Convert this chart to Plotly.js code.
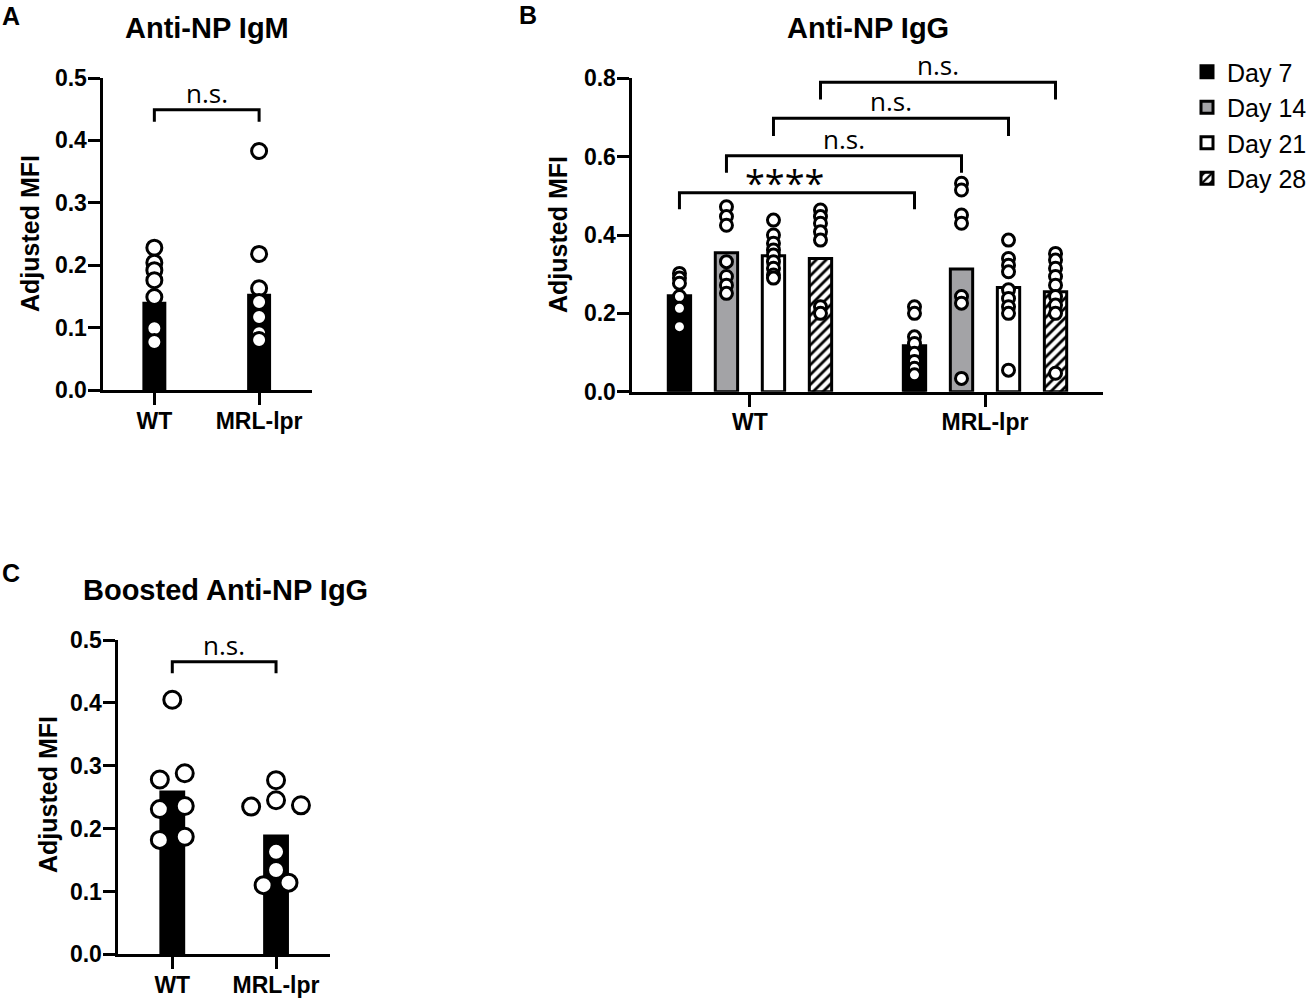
<!DOCTYPE html>
<html><head><meta charset="utf-8">
<script src="https://cdn.plot.ly/plotly-3.0.1.min.js"></script>
<style>html,body{margin:0;padding:0;background:#fff}</style>
</head><body><div id="chart" style="width:1312px;height:1001px"></div>
<script>
// ---------- data ----------
const categories = ['WT', 'MRL-lpr'];
const days = ['Day 7', 'Day 14', 'Day 21', 'Day 28'];

// Panel A: Anti-NP IgM
const igmMeans = [0.139, 0.152];
const igmWT  = [0.228, 0.204, 0.192, 0.176, 0.149, 0.099, 0.077];
const igmMRL = [0.383, 0.218, 0.163, 0.141, 0.117, 0.091, 0.080];
const igmSig = 'n.s.';

// Panel B: Anti-NP IgG (per day)
const iggMeansWT  = [0.245, 0.355, 0.347, 0.340];
const iggMeansMRL = [0.117, 0.313, 0.266, 0.255];
const iggWTd7   = [0.302, 0.290, 0.277, 0.243, 0.213, 0.166];
const iggWTd14  = [0.472, 0.447, 0.425, 0.332, 0.294, 0.272, 0.251];
const iggWTd21  = [0.438, 0.400, 0.379, 0.362, 0.349, 0.332, 0.315, 0.298, 0.290];
const iggWTd28  = [0.464, 0.447, 0.430, 0.408, 0.387, 0.217, 0.200];
const iggMRLd7  = [0.217, 0.200, 0.140, 0.123, 0.098, 0.077, 0.060, 0.043];
const iggMRLd14 = [0.532, 0.515, 0.451, 0.430, 0.243, 0.226, 0.034];
const iggMRLd21 = [0.387, 0.340, 0.323, 0.306, 0.260, 0.238, 0.217, 0.200, 0.055];
const iggMRLd28 = [0.353, 0.336, 0.315, 0.294, 0.272, 0.243, 0.221, 0.200, 0.047];
const iggSig = ['****', 'n.s.', 'n.s.', 'n.s.'];

// Panel C: Boosted Anti-NP IgG
const boostMeans = [0.258, 0.188];
const boostWT  = [0.405, 0.288, 0.278, 0.236, 0.231, 0.187, 0.182];
const boostMRL = [0.277, 0.245, 0.237, 0.235, 0.163, 0.134, 0.114, 0.110];
const boostSig = 'n.s.';

// ---------- layout helpers ----------
const W = 1312, H = 1001;
const px = v => v / W;
const py = v => 1 - v / H;
const BOLD = 'Liberation Sans, Arial, sans-serif';
const SIG = 'Open Sans, sans-serif';

const iggWT = [iggWTd7, iggWTd14, iggWTd21, iggWTd28];
const iggMRL = [iggMRLd7, iggMRLd14, iggMRLd21, iggMRLd28];

const circle = (size) => ({symbol: 'circle', size: size, color: 'white', line: {color: 'black', width: 3}});

function xAxis(dom, rng, anchor) {
  return {domain: dom, range: rng, anchor: anchor, tickvals: [0, 1], ticktext: categories,
    showline: true, linecolor: 'black', linewidth: 3, ticks: 'outside', ticklen: 12, tickwidth: 3,
    tickcolor: 'black', showgrid: false, zeroline: false, fixedrange: true, ticklabelstandoff: -4,
    tickfont: {family: BOLD, size: 23, color: 'black', weight: 'bold'}};
}
function yAxis(dom, rng, dt, anchor) {
  return {domain: dom, range: rng, dtick: dt, tick0: 0, tickformat: '.1f', anchor: anchor,
    showline: true, linecolor: 'black', linewidth: 3, ticks: 'outside', ticklen: 12, tickwidth: 3,
    tickcolor: 'black', showgrid: false, zeroline: false, fixedrange: true, ticklabelstandoff: -4,
    tickfont: {family: BOLD, size: 23, color: 'black', weight: 'bold'}};
}

// beeswarm-like row arrangement (as drawn in panel C)
function swarmOffsets(values, step, tol) {
  const idx = values.map((v, i) => i).sort((a, b) => values[b] - values[a]);
  const rows = []; let cur = [];
  idx.forEach(i => {
    if (cur.length && values[cur[cur.length - 1]] - values[i] > tol) { rows.push(cur); cur = []; }
    cur.push(i);
  });
  if (cur.length) rows.push(cur);
  const off = new Array(values.length).fill(0);
  rows.forEach(r => {
    const n = r.length, slots = [];
    for (let k = 0; k < n; k++) slots.push(k - (n - 1) / 2);
    slots.sort((a, b) => Math.abs(a) - Math.abs(b) || b - a);
    r.forEach((i, j) => { off[i] = slots[j] * step; });
  });
  return off;
}

const traces = [];

// Panel A
traces.push({type: 'bar', x: [0, 1], y: igmMeans, width: 0.2, xaxis: 'x', yaxis: 'y',
  marker: {color: 'black', line: {color: 'black', width: 3}}, showlegend: false, hoverinfo: 'skip'});
traces.push({type: 'scatter', mode: 'markers', xaxis: 'x', yaxis: 'y', cliponaxis: false,
  x: igmWT.map(() => 0).concat(igmMRL.map(() => 1)), y: igmWT.concat(igmMRL),
  marker: circle(15), showlegend: false, hoverinfo: 'skip'});

// Panel B
const slot = 0.2;
const dayOffset = d => (d - 1.5) * slot;
const dayStyles = [
  {color: 'black', line: {color: 'black', width: 3}},
  {color: '#a3a3a6', line: {color: 'black', width: 3}},
  {color: 'white', line: {color: 'black', width: 3}},
  {color: 'white', line: {color: 'black', width: 3},
   pattern: {shape: '/', fgcolor: 'black', bgcolor: 'white', size: 7, solidity: 0.4}}
];
days.forEach((name, d) => {
  traces.push({type: 'bar', name: name, legendgroup: 'g' + d, xaxis: 'x2', yaxis: 'y2',
    x: [0 + dayOffset(d), 1 + dayOffset(d)], y: [iggMeansWT[d], iggMeansMRL[d]],
    width: 0.095, marker: dayStyles[d], hoverinfo: 'skip'});
});
days.forEach((name, d) => {
  const wt = iggWT[d], mrl = iggMRL[d];
  traces.push({type: 'scatter', mode: 'markers', xaxis: 'x2', yaxis: 'y2', cliponaxis: false,
    x: wt.map(() => 0 + dayOffset(d)).concat(mrl.map(() => 1 + dayOffset(d))),
    y: wt.concat(mrl), marker: circle(12), showlegend: false, hoverinfo: 'skip'});
});

// Panel C
traces.push({type: 'bar', x: [0, 1], y: boostMeans, width: 0.22, xaxis: 'x3', yaxis: 'y3',
  marker: {color: 'black', line: {color: 'black', width: 3}}, showlegend: false, hoverinfo: 'skip'});
const offWT = swarmOffsets(boostWT, 0.24, 0.015);
const offMRL = swarmOffsets(boostMRL, 0.24, 0.015);
traces.push({type: 'scatter', mode: 'markers', xaxis: 'x3', yaxis: 'y3', cliponaxis: false,
  x: offWT.map(o => 0 + o).concat(offMRL.map(o => 1 + o)), y: boostWT.concat(boostMRL),
  marker: circle(17), showlegend: false, hoverinfo: 'skip'});

// ---------- brackets and annotations ----------
const shapes = [], annotations = [];
function bracket(xr, yr, x0, x1, yTop, yLeg, label, big) {
  shapes.push({type: 'path', xref: xr, yref: yr,
    path: `M ${x0},${yLeg} L ${x0},${yTop} L ${x1},${yTop} L ${x1},${yLeg}`,
    line: {color: 'black', width: 3}});
  annotations.push({xref: xr, yref: yr, x: (x0 + x1) / 2, y: yTop, yanchor: 'bottom', xanchor: 'center',
    text: label, showarrow: false, font: {family: SIG, size: big ? 36 : 26, color: 'black'},
    yshift: big ? -16 : -3, xshift: big ? -12 : 0});
}
bracket('x', 'y', 0, 1, 0.449, 0.43, igmSig);
const bTops = [0.508, 0.602, 0.698, 0.790];
const bLegs = [0.466, 0.559, 0.653, 0.746];
iggSig.forEach((s, d) => {
  bracket('x2', 'y2', 0 + dayOffset(d), 1 + dayOffset(d), bTops[d], bLegs[d], s, s === '****');
});
bracket('x3', 'y3', 0, 1, 0.4655, 0.447, boostSig);

function label(text, x, y, size, angle) {
  annotations.push({xref: 'paper', yref: 'paper', x: px(x), y: py(y), xanchor: 'center', yanchor: 'middle',
    text: text, showarrow: false, textangle: angle || 0,
    font: {family: BOLD, size: size, color: 'black', weight: 'bold'}});
}
label('A', 11, 16, 25);
label('B', 528, 15, 25);
label('C', 11, 573, 25);
label('Anti-NP IgM', 207, 28, 29);
label('Anti-NP IgG', 868, 28, 29);
label('Boosted Anti-NP IgG', 225, 590, 29);
label('Adjusted MFI', 30, 234, 25, -90);
label('Adjusted MFI', 558, 235, 25, -90);
label('Adjusted MFI', 48, 795, 25, -90);

const layout = {
  width: W, height: H, margin: {l: 0, r: 0, t: 0, b: 0},
  paper_bgcolor: 'white', plot_bgcolor: 'rgba(0,0,0,0)',
  barmode: 'overlay',
  xaxis: xAxis([px(102.5), px(312)], [-0.495, 1.505], 'y'),
  yaxis: yAxis([py(390), py(78)], [0, 0.5], 0.1, 'x'),
  xaxis2: xAxis([px(631.5), px(1103)], [-0.504, 1.502], 'y2'),
  yaxis2: yAxis([py(391.7), py(78.3)], [0, 0.8], 0.2, 'x2'),
  xaxis3: xAxis([px(117.5), px(330)], [-0.528, 1.52], 'y3'),
  yaxis3: yAxis([py(954.3), py(640)], [0, 0.5], 0.1, 'x3'),
  showlegend: true,
  legend: {x: px(1187), y: py(49), xanchor: 'left', yanchor: 'top', traceorder: 'grouped',
    tracegroupgap: 0, font: {family: BOLD, size: 25, color: 'black'}, bgcolor: 'rgba(0,0,0,0)'},
  shapes: shapes, annotations: annotations
};

Plotly.newPlot('chart', traces, layout, {displayModeBar: false, staticPlot: true});
</script></body></html>
